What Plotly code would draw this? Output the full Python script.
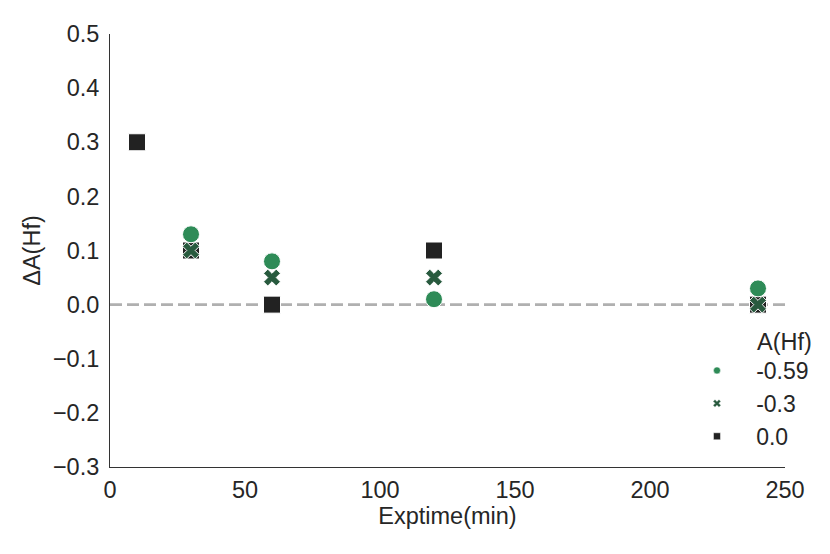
import plotly.graph_objects as go

# Data
series_names = ["-0.59", "-0.3", "0.0"]
x_m059 = [30, 60, 120, 240]
y_m059 = [0.13, 0.08, 0.01, 0.03]
x_m03 = [30, 60, 120, 240]
y_m03 = [0.10, 0.05, 0.05, 0.0]
x_00 = [10, 30, 60, 120, 240]
y_00 = [0.30, 0.10, 0.0, 0.10, 0.0]

colors = ["#2e8b57", "#285a3e", "#222222"]
symbols = ["circle", "x", "square"]
sizes = [17, 15, 17]

xs = [x_m059, x_m03, x_00]
ys = [y_m059, y_m03, y_00]

FONT = "Arial, Liberation Sans, sans-serif"
TXT = "#262626"
FS = 23.5

fig = go.Figure()

# reference line at y=0
fig.add_hline(y=0, line=dict(color="#b0b0b0", width=2.8, dash="12px,5px"), layer="below")

# draw squares first, then x, then circles (order as in reference)
for i in [2, 1, 0]:
    fig.add_trace(go.Scatter(
        x=xs[i], y=ys[i], mode="markers", showlegend=False,
        marker=dict(symbol=symbols[i], color=colors[i], size=sizes[i],
                    line=dict(color="white", width=1)),
        cliponaxis=False,
    ))

# legend entries (small markers)
for i in range(3):
    fig.add_trace(go.Scatter(
        x=[None], y=[None], mode="markers",
        name="\u00a0\u00a0\u00a0" + series_names[i],
        legendgroup=series_names[i],
        marker=dict(symbol=symbols[i], color=colors[i], size=7,
                    line=dict(color="white", width=0.5)),
    ))

fig.update_layout(
    width=830, height=554,
    margin=dict(l=102, r=53, t=26, b=95),
    paper_bgcolor="white", plot_bgcolor="white",
    font=dict(family=FONT, size=FS, color=TXT),
    showlegend=True,
    legend=dict(x=0.8696, y=0.2725, xanchor="left", yanchor="top",
                font=dict(size=23, color=TXT), tracegroupgap=0,
                bgcolor="rgba(0,0,0,0)", itemsizing="trace"),
    annotations=[dict(text="A(Hf)", xref="paper", yref="paper",
                      x=0.9556, y=0.2887, xanchor="left", yanchor="middle",
                      showarrow=False, font=dict(size=FS, color=TXT))],
)

fig.update_xaxes(range=[0, 250], tickvals=[0, 50, 100, 150, 200, 250],
                 showgrid=False, zeroline=False, showline=True,
                 linecolor="#333333", linewidth=1, ticks="",
                 ticklabelstandoff=2,
                 title=dict(text="Exptime(min)", standoff=5,
                            font=dict(size=FS, color=TXT)))
fig.update_yaxes(range=[-0.3, 0.5],
                 tickvals=[-0.3, -0.2, -0.1, 0.0, 0.1, 0.2, 0.3, 0.4, 0.5],
                 ticktext=["\u22120.3", "\u22120.2", "\u22120.1", "0.0", "0.1", "0.2", "0.3", "0.4", "0.5"],
                 showgrid=False, zeroline=False, showline=True,
                 linecolor="#333333", linewidth=1, ticks="",
                 ticklabelstandoff=5,
                 title=dict(text="\u0394A(Hf)", standoff=5,
                            font=dict(size=FS, color=TXT)))

fig.write_html("out.html")
